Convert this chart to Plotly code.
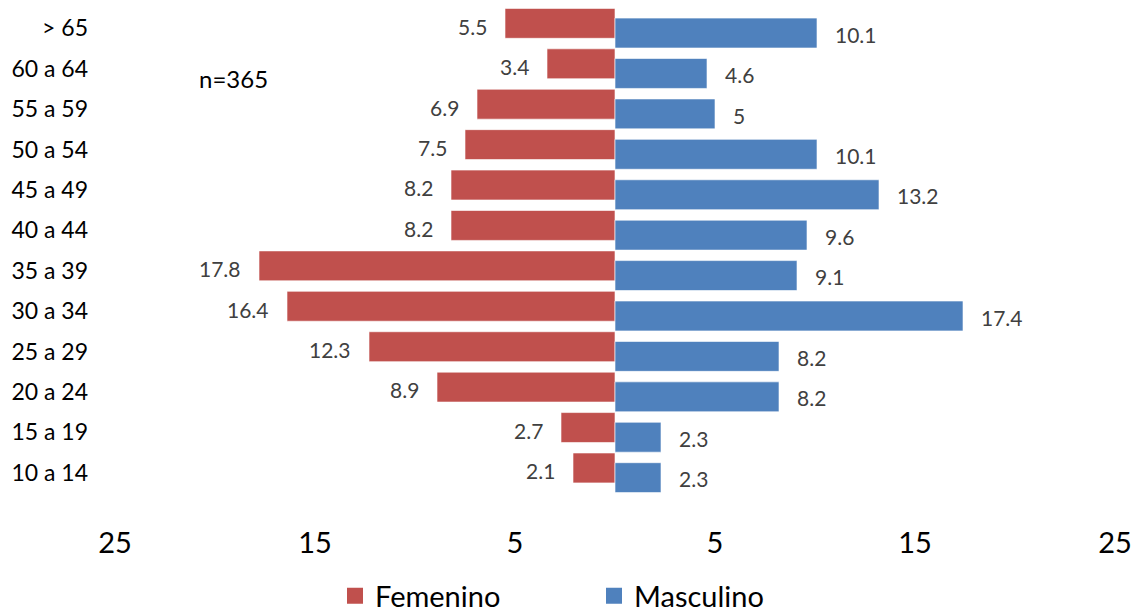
import plotly.graph_objects as go

categories = ["10 a 14", "15 a 19", "20 a 24", "25 a 29", "30 a 34", "35 a 39",
              "40 a 44", "45 a 49", "50 a 54", "55 a 59", "60 a 64", "> 65"]
femenino = [2.1, 2.7, 8.9, 12.3, 16.4, 17.8, 8.2, 8.2, 7.5, 6.9, 3.4, 5.5]
masculino = [2.3, 2.3, 8.2, 8.2, 17.4, 9.1, 9.6, 13.2, 10.1, 5, 4.6, 10.1]
x_ticks = [-25, -15, -5, 5, 15, 25]
x_tick_labels = ["25", "15", "5", "5", "15", "25"]

FONT = "Lato"
RED = "#C0504D"
BLUE = "#4F81BD"

fig = go.Figure()
fig.add_trace(go.Bar(
    y=categories, x=[-v for v in femenino], orientation="h", name="Femenino",
    marker=dict(color=RED, line=dict(color="rgba(255,255,255,0.6)", width=1)),
    width=0.74, offset=-0.25, hoverinfo="skip", showlegend=False))
fig.add_trace(go.Bar(
    y=categories, x=masculino, orientation="h", name="Masculino",
    marker=dict(color=BLUE, line=dict(color="rgba(255,255,255,0.6)", width=1)),
    width=0.74, offset=-0.49, hoverinfo="skip", showlegend=False))
# legend entries (larger square symbols)
for name, col in (("Femenino", RED), ("Masculino", BLUE)):
    fig.add_trace(go.Scatter(x=[None], y=[None], mode="markers", name=name,
                             marker=dict(symbol="square", size=18, color=col),
                             hoverinfo="skip"))

annotations = []
for c, f, m in zip(categories, femenino, masculino):
    annotations.append(dict(x=-f, y=c, xref="x", yref="y", text=f"{f:g}", showarrow=False,
                            xanchor="right", xshift=-16, yshift=2,
                            font=dict(family=FONT, size=21, color="#404040")))
    annotations.append(dict(x=m, y=c, xref="x", yref="y", text=f"{m:g}", showarrow=False,
                            xanchor="left", xshift=16, yshift=-6,
                            font=dict(family=FONT, size=21, color="#404040")))
annotations.append(dict(x=0.082, y=0.855, xref="paper", yref="paper", text="n=365",
                        showarrow=False, xanchor="left", yanchor="middle",
                        font=dict(family=FONT, size=24, color="black")))

fig.update_layout(
    width=1135, height=616,
    margin=dict(l=115, r=20, t=8, b=123, autoexpand=False),
    paper_bgcolor="white", plot_bgcolor="rgba(0,0,0,0)",
    barmode="overlay",
    font=dict(family=FONT, color="black"),
    xaxis=dict(range=[-25, 25], tickvals=x_ticks, ticktext=x_tick_labels,
               showgrid=False, zeroline=False, showline=False, ticks="",
               tickfont=dict(size=29, color="black"), ticklabelstandoff=30),
    yaxis=dict(type="category", range=[-0.5, 11.5], showgrid=False, zeroline=False,
               showline=False, ticks="", tickfont=dict(size=23, color="black"),
               ticklabelstandoff=26),
    yaxis2=dict(overlaying="y", anchor="free", position=0.5, range=[-0.5, 11.5],
                tickmode="linear", tick0=-0.5, dtick=0.5, ticks="outside", ticklen=6,
                tickcolor="#D9D9D9", tickwidth=1.5, showline=True, linecolor="#D9D9D9",
                linewidth=2, showticklabels=False, showgrid=False, zeroline=False),
    legend=dict(orientation="h", x=0.22, xanchor="left", y=-0.212, yanchor="middle",
                font=dict(size=29, color="black"), entrywidth=214, entrywidthmode="pixels",
                itemsizing="trace", bgcolor="rgba(0,0,0,0)"),
    annotations=annotations,
)

fig.write_html(
    "out.html",
    config={"displayModeBar": False},
    post_script="document.body.style.margin='0';document.body.style.overflow='hidden';",
)
